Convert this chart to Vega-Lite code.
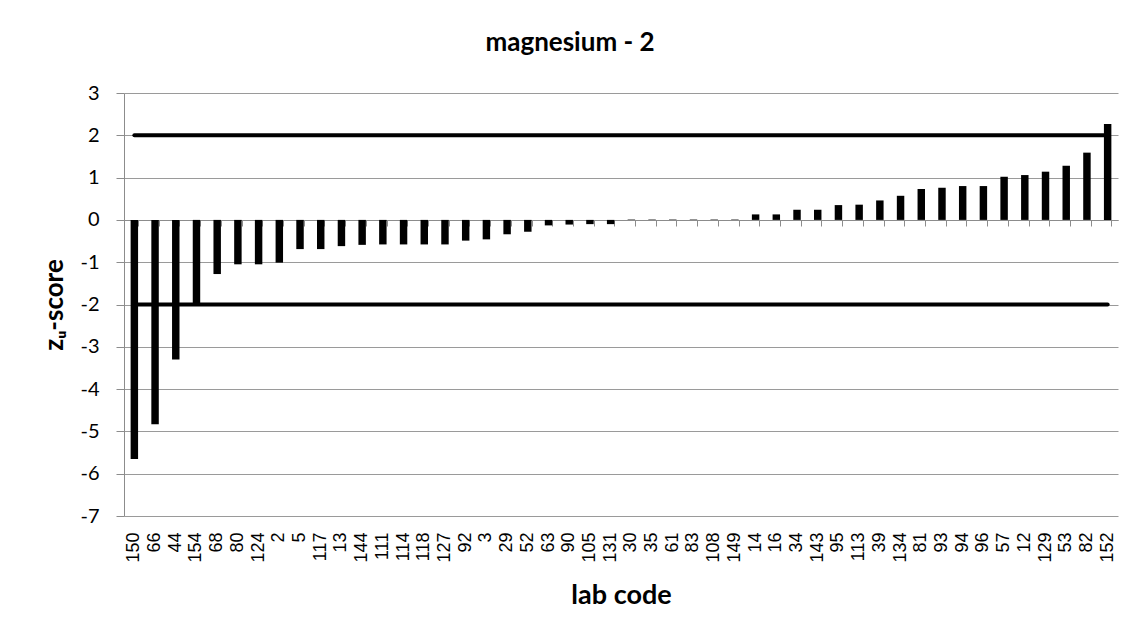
{
  "$schema": "https://vega.github.io/schema/vega-lite/v6.json",
  "width": 994,
  "height": 423,
  "autosize": {"type": "none"},
  "padding": {"left": 124, "top": 93, "right": 21, "bottom": 124},
  "background": "white",
  "title": {
    "text": "magnesium - 2",
    "font": "Lato",
    "fontSize": 26,
    "fontWeight": "bold",
    "color": "black",
    "anchor": "middle",
    "dx": -51,
    "offset": 27
  },
  "config": {
    "view": {"stroke": null},
    "axis": {"labelColor": "black", "titleColor": "black"}
  },
  "resolve": {"axis": {"x": "independent"}},
  "data": {
    "values": [
      {"lab": "150", "z": -5.65},
      {"lab": "66", "z": -4.83},
      {"lab": "44", "z": -3.3},
      {"lab": "154", "z": -1.97},
      {"lab": "68", "z": -1.28},
      {"lab": "80", "z": -1.05},
      {"lab": "124", "z": -1.05},
      {"lab": "2", "z": -1.01},
      {"lab": "5", "z": -0.69},
      {"lab": "117", "z": -0.69},
      {"lab": "13", "z": -0.62},
      {"lab": "144", "z": -0.59},
      {"lab": "111", "z": -0.58},
      {"lab": "114", "z": -0.58},
      {"lab": "118", "z": -0.58},
      {"lab": "127", "z": -0.58},
      {"lab": "92", "z": -0.49},
      {"lab": "3", "z": -0.46},
      {"lab": "29", "z": -0.34},
      {"lab": "52", "z": -0.28},
      {"lab": "63", "z": -0.13},
      {"lab": "90", "z": -0.11},
      {"lab": "105", "z": -0.1},
      {"lab": "131", "z": -0.1},
      {"lab": "30", "z": 0.01},
      {"lab": "35", "z": 0.01},
      {"lab": "61", "z": 0.01},
      {"lab": "83", "z": 0.01},
      {"lab": "108", "z": 0.01},
      {"lab": "149", "z": 0.01},
      {"lab": "14", "z": 0.13},
      {"lab": "16", "z": 0.13},
      {"lab": "34", "z": 0.24},
      {"lab": "143", "z": 0.24},
      {"lab": "95", "z": 0.35},
      {"lab": "113", "z": 0.36},
      {"lab": "39", "z": 0.46},
      {"lab": "134", "z": 0.57},
      {"lab": "81", "z": 0.73},
      {"lab": "93", "z": 0.76},
      {"lab": "94", "z": 0.8},
      {"lab": "96", "z": 0.8},
      {"lab": "57", "z": 1.02},
      {"lab": "12", "z": 1.06},
      {"lab": "129", "z": 1.14},
      {"lab": "53", "z": 1.28},
      {"lab": "82", "z": 1.59},
      {"lab": "152", "z": 2.27}
    ]
  },
  "layer": [
    {
      "mark": {"type": "bar", "color": "black"},
      "encoding": {
        "x": {
          "field": "lab",
          "type": "nominal",
          "sort": null,
          "scale": {"paddingInner": 0.64, "paddingOuter": 0.32},
          "axis": {
            "title": "lab code",
            "titleFont": "Lato",
            "titleFontSize": 27,
            "titleFontWeight": "bold",
            "titlePadding": 20,
            "labelAngle": -90,
            "labelFont": "Liberation Sans",
            "labelFontSize": 18,
            "labelPadding": 16,
            "ticks": false,
            "domain": false,
            "grid": false
          }
        },
        "y": {
          "field": "z",
          "type": "quantitative",
          "scale": {"domain": [-7, 3], "nice": false},
          "axis": {
            "title": "zᵤ-score",
            "titleFont": "Lato",
            "titleFontSize": 26,
            "titleFontWeight": "bold",
            "titlePadding": 12,
            "values": [-7, -6, -5, -4, -3, -2, -1, 0, 1, 2, 3],
            "labelExpr": "datum.value",
            "labelFont": "Lato",
            "labelFontSize": 20,
            "labelPadding": 17,
            "tickSize": 8,
            "tickColor": "#8c8c8c",
            "domainColor": "#8c8c8c",
            "gridColor": "#9a9a9a",
            "grid": true
          }
        }
      }
    },
    {
      "mark": {"type": "line", "color": "black", "strokeWidth": 4, "strokeCap": "round"},
      "encoding": {
        "x": {
          "field": "lab",
          "type": "nominal",
          "sort": null,
          "axis": {
            "orient": "bottom",
            "offset": -296,
            "title": null,
            "labels": false,
            "ticks": true,
            "tickBand": "extent",
            "tickSize": 6,
            "tickColor": "#8c8c8c",
            "domain": true,
            "domainColor": "#8c8c8c",
            "grid": false
          }
        },
        "y": {"datum": 2}
      }
    },
    {
      "mark": {"type": "line", "color": "black", "strokeWidth": 4, "strokeCap": "round"},
      "encoding": {
        "x": {"field": "lab", "type": "nominal", "sort": null, "axis": null},
        "y": {"datum": -2}
      }
    }
  ]
}
